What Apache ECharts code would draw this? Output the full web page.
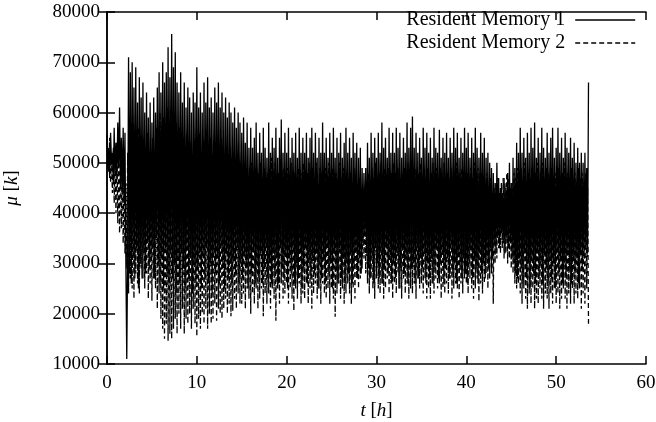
<!DOCTYPE html>
<html>
<head>
<meta charset="utf-8">
<script src="https://cdn.jsdelivr.net/npm/echarts@6/dist/echarts.min.js"></script>
<style>html,body{margin:0;padding:0;background:#fff}#c{width:656px;height:422px}</style>
</head>
<body>
<div id="c"></div>
<script>
// time step between samples (hours)
const dt = 0.1;
const seriesNames = ['Resident Memory 1', 'Resident Memory 2'];
const xTicks = [0, 10, 20, 30, 40, 50, 60];
const yTicks = [10000, 20000, 30000, 40000, 50000, 60000, 70000, 80000];

// Resident Memory 1 (solid), values in thousands, one row = 1 h
const mem1 = [
  55.6, 49, 53, 47, 56, 50, 52, 46, 57, 48,
  54, 47, 58, 49, 61, 45, 55, 44, 57, 42,
  56, 30, 11, 32, 71, 28, 68, 26, 70, 31,
  65, 27, 69, 33, 62, 25, 67, 30, 63, 27,
  66, 32, 60, 28, 64, 34, 59, 29, 62, 31,
  58, 33, 63, 27, 60, 35, 65, 30, 68, 26,
  64, 31, 70, 25, 66, 33, 68, 28, 73, 26,
  67, 32, 75.6, 27, 69, 30, 72, 24, 66, 31,
  64, 26, 68, 32, 62, 29, 66, 25, 61, 33,
  65, 27, 63, 31, 60, 24, 64, 30, 62, 26,
  69, 29, 61, 32, 64, 25, 60, 31, 66, 27,
  62, 33, 67, 26, 61, 30, 63, 24, 60, 32,
  65, 28, 62, 31, 66, 26, 61, 33, 64, 29,
  60, 25, 63, 32, 59, 27, 62, 30, 60, 26,
  58, 31, 61, 28, 57, 33, 60, 26, 58, 30,
  56, 27, 59, 32, 54, 29, 58, 25, 53, 31,
  57, 28, 53, 33, 55, 26, 58, 30, 52, 27,
  56, 32, 52, 26, 57, 29, 53, 33, 51, 27,
  58, 30, 52, 26, 55, 32, 53, 28, 57, 31,
  51, 26, 55, 33, 58.6, 29, 52, 27, 56, 32,
  52, 25, 57, 31, 51, 28, 55, 33, 52, 26,
  56, 30, 51, 27, 57, 32, 52, 25, 55, 29,
  52, 33, 56, 26, 51, 30, 55, 27, 57, 31,
  52, 28, 56, 32, 51, 25, 55, 30, 52, 27,
  58, 31, 52, 26, 55, 33, 51, 28, 56, 30,
  52, 25, 57, 32, 51, 29, 55, 26, 52, 33,
  56, 27, 51, 31, 54, 26, 57, 30, 52, 28,
  55, 32, 51, 26, 56, 29, 52, 33, 54, 27,
  51, 31, 53, 28, 49, 34, 48, 36, 49, 32,
  54, 29, 51, 27, 56, 31, 52, 26, 55, 33,
  51, 30, 56, 27, 52, 32, 58, 26, 53, 29,
  55, 33, 51, 28, 57, 31, 52, 26, 56, 30,
  52, 27, 57, 32, 53, 25, 56, 29, 51, 33,
  55, 28, 52, 31, 58, 26, 53, 32, 57, 29,
  59.2, 30, 53, 26, 56, 33, 52, 27, 55, 31,
  51, 29, 57, 32, 53, 26, 56, 30, 52, 27,
  55, 31, 51, 26, 57, 29, 53, 33, 52, 27,
  56.6, 30, 51, 32, 55, 26, 52, 29, 56, 31,
  51, 27, 55, 33, 52, 28, 57, 30, 53, 26,
  56, 32, 51, 29, 55, 27, 52, 31, 57, 28,
  53, 26, 56, 30, 51, 33, 55, 27, 52, 31,
  57, 29, 53, 26, 51, 32, 56, 28, 52, 30,
  55, 27, 51, 31, 52, 29, 50, 33, 49, 31,
  48, 34, 46, 32, 50, 35, 47, 33, 45, 36,
  44, 34, 47, 32, 45, 35, 48, 33, 50, 34,
  46, 31, 51, 30, 49, 28, 54, 27, 52, 31,
  57, 29, 52, 26, 55, 32, 51, 27, 56, 30,
  52, 25, 57, 31, 53, 28, 58, 26, 51, 32,
  55, 27, 52, 30, 57, 26, 53, 32, 51, 29,
  56, 26, 52, 31, 55, 27, 57, 30, 51, 25,
  53, 32, 57, 28, 52, 31, 55, 26, 51, 30,
  56, 27, 53, 32, 52, 29, 55, 26, 51, 31,
  54, 28, 50, 31, 53, 26, 50, 32, 52, 29,
  50, 31, 52, 33, 49, 32, 66
];

// Resident Memory 2 (dashed), values in thousands, one row = 1 h
const mem2 = [
  54, 52, 48, 55, 46, 51, 44, 53, 42, 50,
  40, 54, 38, 51, 36, 53, 37, 50, 34, 48,
  32, 46, 29, 52, 24, 55, 27, 58, 25, 53,
  23, 56, 28, 51, 26, 57, 24, 50, 29, 55,
  27, 53, 25, 49, 28, 56, 23, 52, 26, 50,
  22.6, 55, 27, 51, 25, 57, 21, 53, 24, 60,
  19, 56, 17, 59, 15, 54, 18, 61, 14.6, 57,
  16, 55, 15, 60, 17, 53, 19, 58, 16, 54,
  20, 57, 17, 52, 21, 55, 16, 53, 19, 56,
  18, 51, 20, 54, 17, 50, 21, 53, 18, 55,
  15.5, 52, 19, 56, 17, 50, 20, 54, 18, 51,
  21, 53, 17, 49, 20, 55, 18, 50, 19, 52,
  22, 50, 18.6, 53, 21, 49, 20, 52, 19, 51,
  21, 48, 23, 52, 20, 50, 22, 47, 19.5, 51,
  20.6, 49, 23, 47, 21, 51, 24, 48, 22, 50,
  22, 47, 24, 50, 21, 48, 25, 46, 23, 49,
  20, 50, 24, 47, 22, 49, 25, 46, 21, 48,
  23, 50, 25, 47, 19.5, 49, 24, 46, 22, 48,
  24, 49, 21, 51, 25, 47, 23, 50, 18.6, 46,
  25, 48, 22, 50, 26, 47, 23, 49, 24, 46,
  26, 49, 22, 47, 25, 50, 23, 46, 20.6, 48,
  25, 47, 23, 49, 26, 46, 22, 48, 24, 50,
  23, 46, 26, 48, 22, 50, 25, 47, 21, 49,
  24, 47, 26, 50, 23, 46, 25, 49, 22, 48,
  26, 46, 24, 49, 23, 47, 25, 50, 22, 48,
  25, 49, 23, 46, 19.4, 48, 24, 47, 26, 50,
  23, 47, 25, 49, 22, 46, 24, 48, 26, 45,
  24, 48, 22, 46, 25, 49, 23, 47, 27, 45,
  25, 47, 27, 45, 29, 44, 31, 43, 28, 46,
  26, 48, 24, 46, 27, 49, 25, 47, 23, 50,
  27, 46, 25, 48, 24, 50, 26, 47, 23, 49,
  25, 47, 27, 49, 24, 46, 26, 48, 23, 50,
  26, 48, 24, 46, 28, 49, 25, 47, 23, 45,
  27, 49, 24, 47, 26, 50, 23, 46, 25, 48,
  24, 47, 26, 49, 23, 46, 27, 48, 25, 50,
  26, 46, 24, 48, 27, 47, 23, 49, 25, 46,
  23, 48, 26, 50, 24, 47, 27, 49, 25, 46,
  26, 49, 23, 47, 25, 50, 24, 46, 26, 48,
  24, 47, 27, 49, 23, 46, 25, 48, 26, 50,
  25, 46, 23, 48, 26, 49, 24, 47, 27, 45,
  26, 48, 24, 46, 27, 49, 25, 47, 23, 50,
  25, 47, 27, 49, 22.5, 46, 26, 48, 24, 47,
  26, 46, 28, 48, 25, 45, 27, 47, 28, 44,
  22, 45, 30, 46, 31, 47, 33, 44, 32, 46,
  33, 47, 31, 46, 32, 48, 30, 47, 31, 45,
  29, 46, 28, 48, 26, 47, 25, 49, 26, 47,
  24, 49, 22, 47, 25, 50, 23, 46, 21, 48,
  24, 47, 22, 49, 25, 46, 21, 48, 23, 50,
  22, 46, 25, 48, 23, 50, 21, 47, 24, 49,
  23, 48, 21, 46, 24, 49, 22, 47, 25, 48,
  22, 47, 24, 49, 21, 46, 23, 48, 25, 50,
  23, 46, 21, 48, 24, 47, 22, 49, 25, 46,
  22, 48, 24, 46, 23, 49, 25, 47, 21, 48,
  24, 46, 22, 48, 25, 45, 18
];

const toData = arr => arr.map((v, i) => [Math.round(i * dt * 10) / 10, v * 1000]);
const FONT = '"Liberation Serif", "DejaVu Serif", serif';
const lbl = { color: '#000', fontFamily: FONT, fontSize: 19 };
const axisLineStyle = { lineStyle: { color: '#000', width: 1.5 } };
const tickStyle = { show: true, inside: true, length: 8, lineStyle: { color: '#000', width: 1.5 } };

const chart = echarts.init(document.getElementById('c'), null, { renderer: 'canvas' });
chart.setOption({
  animation: false,
  backgroundColor: '#fff',
  grid: { left: 107, right: 10, top: 12, bottom: 58, containLabel: false, outerBoundsMode: 'none' },
  legend: {
    orient: 'vertical',
    right: 15,
    top: 5,
    align: 'right',
    itemWidth: 60,
    itemHeight: 15,
    itemGap: 3,
    itemStyle: { color: 'rgba(0,0,0,0)', borderColor: 'rgba(0,0,0,0)', borderWidth: 0, opacity: 0 },
    lineStyle: { width: 1.6, color: '#000' },
    formatter: n => n + ' ',
    textStyle: { color: '#000', fontFamily: FONT, fontSize: 20 },
    data: seriesNames
  },
  xAxis: [{
    type: 'value', min: xTicks[0], max: xTicks[xTicks.length - 1], interval: 10,
    name: '{i|t} [{i|h}]', nameLocation: 'middle', nameGap: 37,
    nameTextStyle: { color: '#000', fontFamily: FONT, fontSize: 19, rich: { i: { fontStyle: 'italic', fontFamily: FONT, fontSize: 19 } } },
    axisLine: axisLineStyle,
    axisTick: tickStyle,
    axisLabel: Object.assign({ margin: 10, formatter: v => String(v) }, lbl),
    splitLine: { show: false }
  }, {
    type: 'value', position: 'top', min: xTicks[0], max: xTicks[xTicks.length - 1], interval: 10,
    axisLine: axisLineStyle,
    axisTick: tickStyle,
    axisLabel: { show: false }, splitLine: { show: false }
  }],
  yAxis: [{
    type: 'value', min: yTicks[0], max: yTicks[yTicks.length - 1], interval: 10000,
    name: '{i|μ} [{i|k}]', nameLocation: 'middle', nameGap: 86,
    nameTextStyle: { color: '#000', fontFamily: FONT, fontSize: 19, rich: { i: { fontStyle: 'italic', fontFamily: FONT, fontSize: 19 } } },
    axisLine: Object.assign({ show: true }, axisLineStyle),
    axisTick: tickStyle,
    axisLabel: Object.assign({ margin: 7, formatter: v => String(v) }, lbl),
    splitLine: { show: false }
  }, {
    type: 'value', position: 'right', min: yTicks[0], max: yTicks[yTicks.length - 1], interval: 10000,
    axisLine: Object.assign({ show: true }, axisLineStyle),
    axisTick: tickStyle,
    axisLabel: { show: false }, splitLine: { show: false }
  }],
  series: [{
    name: seriesNames[0], type: 'line', data: toData(mem1),
    symbol: 'none', showSymbol: false, sampling: null,
    lineStyle: { color: '#000', width: 1.3, type: 'solid' },
    itemStyle: { color: '#000' }
  }, {
    name: seriesNames[1], type: 'line', data: toData(mem2),
    symbol: 'none', showSymbol: false, sampling: null,
    lineStyle: { color: '#000', width: 1.3, type: [5, 3] },
    itemStyle: { color: '#000' }
  }]
});
</script>
</body>
</html>
